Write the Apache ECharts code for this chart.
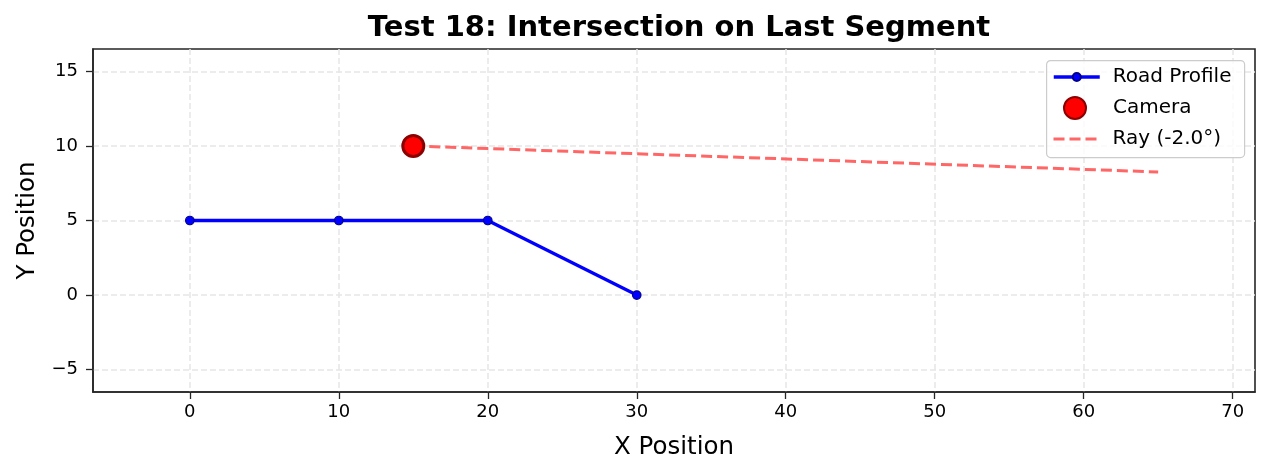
<!DOCTYPE html>
<html>
<head>
<meta charset="utf-8">
<script src="https://cdn.jsdelivr.net/npm/echarts@6/dist/echarts.min.js"></script>
<style>html,body{margin:0;padding:0;background:#fff}#c{width:1270px;height:474px}</style>
</head>
<body>
<div id="c"></div>
<script>
const roadX = [0, 10, 20, 30];
const roadY = [5, 5, 5, 0];
const cameraX = [15];
const cameraY = [10];
const rayX = [15, 65];
const rayY = [10, 8.254];
const xTicks = [0, 10, 20, 30, 40, 50, 60, 70];
const yTicks = [-5, 0, 5, 10, 15];

const chart = echarts.init(document.getElementById('c'), null, {renderer: 'canvas'});
const font = 'DejaVu Sans';
const pairs = (xs, ys) => xs.map((x, i) => [x, ys[i]]);
const gridStyle = {show: true, lineStyle: {color: '#e6e6e6', width: 1.5, type: [6, 3]}};
const axisCol = '#262626';
function legendAt(left, top, h, item, pad) {
  return {
    left: left, top: top, orient: 'vertical', itemWidth: 46, itemHeight: h, padding: 0,
    textStyle: {fontFamily: font, fontSize: 20, color: '#000', padding: [0, 0, 0, pad]},
    data: [item], z: 10
  };
}
chart.setOption({
  animation: false,
  backgroundColor: '#fff',
  title: {
    text: 'Test 18: Intersection on Last Segment',
    left: 674, top: 9, textAlign: 'center',
    textStyle: {fontFamily: font, fontSize: 29, fontWeight: 'bold', color: '#000'}
  },
  grid: {left: 93, right: 15, top: 49, bottom: 82, containLabel: false,
         show: true, borderColor: axisCol, borderWidth: 1.6, backgroundColor: 'transparent'},
  graphic: [{
    type: 'rect', z: 8, left: 1046, top: 60,
    shape: {width: 198, height: 97, r: 4},
    style: {fill: 'rgba(255,255,255,0.8)', stroke: '#cccccc', lineWidth: 1.2}
  }],
  legend: [
    legendAt(1052, 67, 10, {name: 'Road Profile', lineStyle: {width: 3.5, color: '#0000ff'}}, 8),
    legendAt(1063, 96, 22, {name: 'Camera'}, 10),
    legendAt(1052, 129, 10, {name: 'Ray (-2.0°)', itemStyle: {opacity: 0},
      lineStyle: {width: 3, color: '#ff6666', type: [11, 5]}}, 8)
  ],
  xAxis: {
    type: 'value', min: -6.5, max: 71.5,
    name: 'X Position', nameLocation: 'middle', nameGap: 43,
    nameTextStyle: {fontFamily: font, fontSize: 24.5, color: '#000'},
    axisLine: {show: true, onZero: false, lineStyle: {color: axisCol, width: 1.6}},
    axisTick: {show: true, length: 7, customValues: xTicks, lineStyle: {color: axisCol, width: 1.3}},
    axisLabel: {fontFamily: font, fontSize: 18, color: '#000', margin: 11, customValues: xTicks,
      formatter: v => String(v)},
    splitLine: gridStyle
  },
  yAxis: {
    type: 'value', min: -6.5, max: 16.5,
    name: 'Y Position', nameLocation: 'middle', nameGap: 53,
    nameTextStyle: {fontFamily: font, fontSize: 24.5, color: '#000'},
    axisLine: {show: true, onZero: false, lineStyle: {color: axisCol, width: 1.6}},
    axisTick: {show: true, length: 7, customValues: yTicks, lineStyle: {color: axisCol, width: 1.3}},
    axisLabel: {fontFamily: font, fontSize: 18, color: '#000', margin: 15, customValues: yTicks,
      formatter: v => (v < 0 ? '\u2212' + Math.abs(v) : String(v))},
    splitLine: gridStyle
  },
  series: [
    {
      name: 'Road Profile', type: 'line', data: pairs(roadX, roadY),
      symbol: 'circle', symbolSize: 8.5, showSymbol: true,
      lineStyle: {color: '#0000ff', width: 3.3},
      itemStyle: {color: '#0000ff', borderColor: '#00008b', borderWidth: 1.2},
      z: 3
    },
    {
      name: 'Ray (-2.0°)', type: 'line', data: pairs(rayX, rayY),
      symbol: 'none', showSymbol: false,
      lineStyle: {color: '#ff6666', width: 3, type: [11, 5]},
      itemStyle: {color: '#ff6666'},
      z: 2
    },
    {
      name: 'Camera', type: 'scatter', data: pairs(cameraX, cameraY),
      symbol: 'circle', symbolSize: 21,
      itemStyle: {color: '#ff0000', borderColor: '#8b0000', borderWidth: 3, opacity: 1},
      z: 5
    }
  ]
});
</script>
</body>
</html>
